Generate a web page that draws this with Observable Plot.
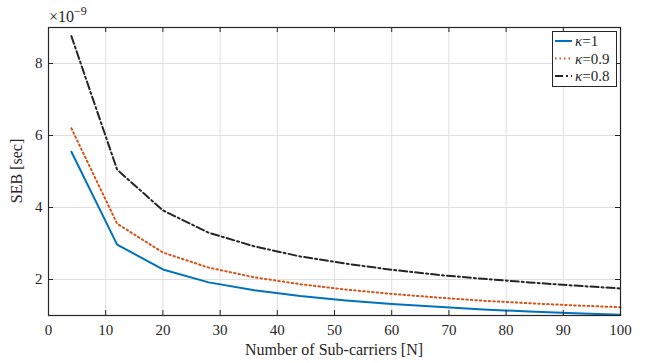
<!DOCTYPE html>
<html>
<head>
<meta charset="utf-8">
<script src="https://cdn.jsdelivr.net/npm/d3@7"></script>
<script src="https://cdn.jsdelivr.net/npm/@observablehq/plot@0.6"></script>
<style>
  html, body { margin: 0; padding: 0; background: #fff; }
  #chart svg { display: block; }
  #chart svg, #chart svg text { font-family: "Liberation Serif", "DejaVu Serif", serif !important; }
</style>
</head>
<body>
<div id="chart"></div>
<script>
// Number of sub-carriers
const subcarriers = [4, 12, 20, 28, 36, 44, 52, 60, 68, 76, 84, 92, 100];
// SEB values in units of 1e-9 s
const sebK1  = [5.55, 2.97, 2.28, 1.92, 1.70, 1.54, 1.42, 1.32, 1.24, 1.17, 1.11, 1.06, 1.02];
const sebK09 = [6.20, 3.55, 2.75, 2.33, 2.06, 1.87, 1.72, 1.60, 1.50, 1.41, 1.34, 1.28, 1.23];
const sebK08 = [8.76, 5.05, 3.92, 3.30, 2.92, 2.64, 2.44, 2.27, 2.13, 2.02, 1.92, 1.83, 1.75];
const seriesNames = ["\u03BA=1", "\u03BA=0.9", "\u03BA=0.8"];
const xTicks = [0, 10, 20, 30, 40, 50, 60, 70, 80, 90, 100];
const yTicks = [2, 4, 6, 8];

const colors = ["#0072BD", "#D95319", "#262626"];
const dashes = [null, "1.5,3", "8,3,2,3"];
const allSeries = [sebK1, sebK09, sebK08];

const W = 645, H = 363, mL = 48, mR = 25, mT = 27, mB = 48;
const plotH = H - mT - mB, plotW = W - mL - mR;
const FONT = "'Liberation Serif', 'DejaVu Serif', serif";

const lineMarks = allSeries.map((vals, i) =>
  Plot.line(subcarriers.map((n, j) => ({n, v: vals[j]})), {
    x: "n", y: "v", stroke: colors[i], strokeWidth: 2,
    strokeDasharray: dashes[i] || undefined, strokeLinejoin: "round"
  })
);

const chart = Plot.plot({
  width: W, height: H,
  marginLeft: mL, marginRight: mR, marginTop: mT, marginBottom: mB,
  x: {domain: [0, 100]},
  y: {domain: [1, 9]},
  style: {fontFamily: FONT, fontSize: "15px", color: "#262626", background: "#fff"},
  marks: [
    Plot.gridX(xTicks, {stroke: "#dfdfdf", strokeOpacity: 1, strokeWidth: 1}),
    Plot.gridY(yTicks, {stroke: "#dfdfdf", strokeOpacity: 1, strokeWidth: 1}),
    ...lineMarks,
    Plot.frame({stroke: "#262626", strokeWidth: 1.2}),
    // inward ticks (MATLAB style), bottom/top/left/right
    Plot.tickX(xTicks, {x: d => d, insetTop: plotH - 5, stroke: "#262626"}),
    Plot.tickX(xTicks, {x: d => d, insetBottom: plotH - 5, stroke: "#262626"}),
    Plot.tickY(yTicks, {y: d => d, insetRight: plotW - 5, stroke: "#262626"}),
    Plot.tickY(yTicks, {y: d => d, insetLeft: plotW - 5, stroke: "#262626"}),
    Plot.axisX(xTicks, {tickSize: 0, tickPadding: 9, label: null, fill: "#262626", fontVariant: "normal"}),
    Plot.axisY(yTicks, {tickSize: 0, tickPadding: 6, label: null, fill: "#262626", fontVariant: "normal"})
  ]
});

document.getElementById("chart").appendChild(chart);

const svg = d3.select(chart);
// x label
svg.append("text")
  .attr("x", mL + plotW / 2).attr("y", 355)
  .attr("text-anchor", "middle")
  .style("font-family", FONT).attr("font-size", 16)
  .attr("fill", "#262626")
  .text("Number of Sub-carriers [N]");
// y label
svg.append("text")
  .attr("transform", `translate(22,${mT + plotH / 2}) rotate(-90)`)
  .attr("text-anchor", "middle")
  .style("font-family", FONT).attr("font-size", 16)
  .attr("fill", "#262626")
  .text("SEB [sec]");
// exponent
const ex = svg.append("text")
  .attr("x", 49).attr("y", 22)
  .attr("text-anchor", "start")
  .style("font-family", FONT).attr("font-size", 16)
  .attr("fill", "#262626");
ex.append("tspan").text("\u00D710");
ex.append("tspan").attr("font-size", 12).attr("dy", -7).text("\u22129");

// legend
const lg = svg.append("g");
lg.append("rect").attr("x", 552.5).attr("y", 31.5).attr("width", 64).attr("height", 55)
  .attr("fill", "#fff").attr("stroke", "#262626").attr("stroke-width", 1);
seriesNames.forEach((name, i) => {
  const yy = 41 + i * 17.5;
  lg.append("line").attr("x1", 555).attr("x2", 572).attr("y1", yy).attr("y2", yy)
    .attr("stroke", colors[i]).attr("stroke-width", 2)
    .attr("stroke-dasharray", dashes[i] || null);
  const t = lg.append("text").attr("x", 575).attr("y", yy + 5)
    .attr("text-anchor", "start")
    .style("font-family", FONT).attr("font-size", 15)
    .attr("fill", "#262626");
  t.append("tspan").attr("font-style", "italic").text("\u03BA");
  t.append("tspan").text(name.slice(1));
});
</script>
</body>
</html>
